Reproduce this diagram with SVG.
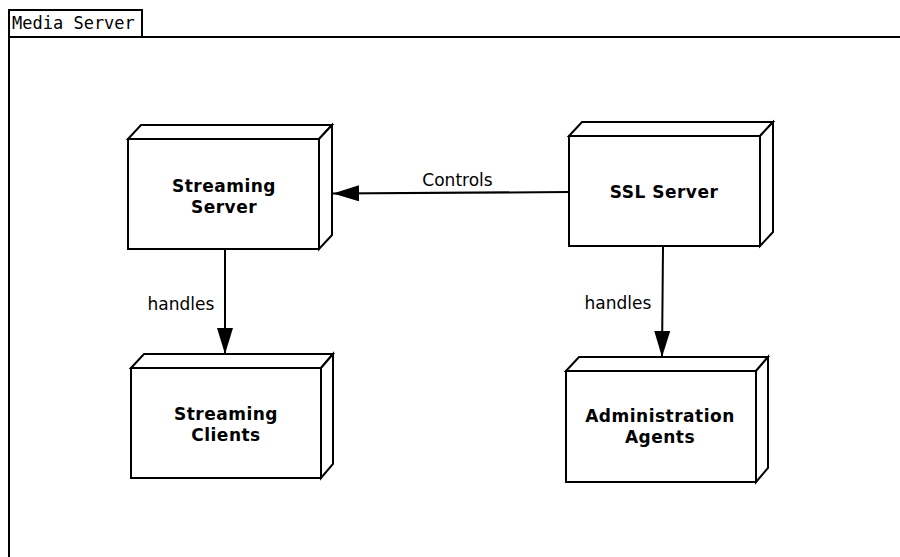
<svg xmlns="http://www.w3.org/2000/svg" width="900" height="557" viewBox="0 0 900 557">
<style>
.box{fill:#fff;stroke:#000;stroke-width:2;stroke-linejoin:miter}
.nt{font-family:"DejaVu Sans",sans-serif;font-weight:bold;font-size:17px;letter-spacing:0.5px;text-anchor:middle;fill:#000}
.lt{font-family:"DejaVu Sans",sans-serif;font-size:17px;text-anchor:middle;fill:#000}
.conn{stroke:#000;stroke-width:2;fill:none}
</style>
<defs>
<marker id="ah" markerUnits="userSpaceOnUse" markerWidth="27" markerHeight="18" refX="26" refY="8" orient="auto">
<path d="M0,0 L26,8 L0,16 Z" fill="#000"/>
</marker>
</defs>
<rect width="900" height="557" fill="#fff"/>
<g id="frame">
<path d="M9,557 L9,37 L901,37" fill="none" stroke="#000" stroke-width="2"/>
<rect x="9" y="10" width="133" height="27" fill="#fff" stroke="#000" stroke-width="2"/>
<text x="12" y="29" font-family="'DejaVu Sans Mono',monospace" font-size="17" fill="#000">Media Server</text>
</g>
<g id="streaming-server">
<path class="box" d="M128,139 L141,125 L332,125 L319,139 Z"/>
<path class="box" d="M319,139 L332,125 L332,235 L319,249 Z"/>
<rect class="box" x="128" y="139" width="191" height="110"/>
<text class="nt" x="224" y="191.5">Streaming</text>
<text class="nt" x="224" y="212.5">Server</text>
</g>
<g id="ssl-server">
<path class="box" d="M569,136 L582,122 L773,122 L760,136 Z"/>
<path class="box" d="M760,136 L773,122 L773,232 L760,246 Z"/>
<rect class="box" x="569" y="136" width="191" height="110"/>
<text class="nt" x="664" y="197.5">SSL Server</text>
</g>
<g id="streaming-clients">
<path class="box" d="M131,368 L144,354 L333,354 L321,368 Z"/>
<path class="box" d="M321,368 L333,354 L333,464 L321,478 Z"/>
<rect class="box" x="131" y="368" width="190" height="110"/>
<text class="nt" x="226" y="420">Streaming</text>
<text class="nt" x="226" y="441">Clients</text>
</g>
<g id="administration-agents">
<path class="box" d="M566,371 L579,357 L768,357 L756,371 Z"/>
<path class="box" d="M756,371 L768,357 L768,468 L756,482 Z"/>
<rect class="box" x="566" y="371" width="190" height="111"/>
<text class="nt" x="660" y="421.5">Administration</text>
<text class="nt" x="660" y="443">Agents</text>
</g>
<g id="connectors">
<line class="conn" x1="569" y1="192" x2="333" y2="193.5" marker-end="url(#ah)"/>
<text class="lt" x="457.5" y="186">Controls</text>
<line class="conn" x1="225" y1="250" x2="225" y2="354" marker-end="url(#ah)"/>
<text class="lt" x="181" y="310">handles</text>
<line class="conn" x1="663" y1="247" x2="662" y2="357" marker-end="url(#ah)"/>
<text class="lt" x="618" y="309">handles</text>
</g>
</svg>
